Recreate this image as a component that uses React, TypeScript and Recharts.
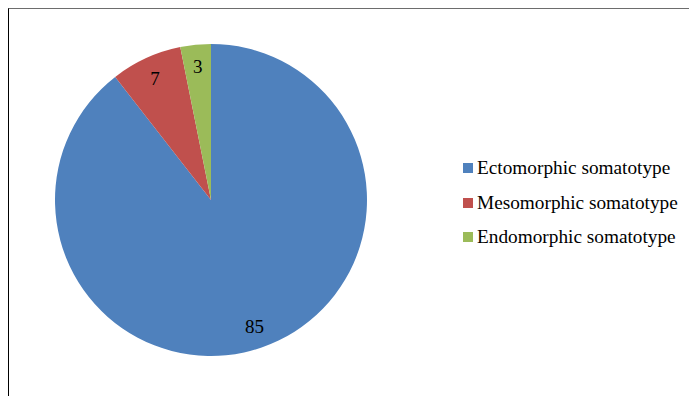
import { PieChart, Pie, Cell, Legend } from "recharts";

const categories = ["Ectomorphic somatotype", "Mesomorphic somatotype", "Endomorphic somatotype"];
const values = [85, 7, 3];
const colors = ["#4F81BD", "#C0504D", "#9BBB59"];

const data = categories.map((name, i) => ({ name, value: values[i] }));

const RAD = Math.PI / 180;
const FONT = '"Liberation Serif", "Times New Roman", serif';

function renderLabel(props: any) {
  const { cx, cy, midAngle, outerRadius, value } = props;
  const r = outerRadius * 0.86;
  const x = cx + r * Math.cos(-midAngle * RAD);
  const y = cy + r * Math.sin(-midAngle * RAD);
  return (
    <text x={x} y={y} fill="#000" fontSize={19} fontFamily={FONT} textAnchor="middle" dominantBaseline="central">
      {value}
    </text>
  );
}

function LegendBox() {
  return (
    <div style={{ fontFamily: FONT, fontSize: 19.3, color: "#000" }}>
      {categories.map((c, i) => (
        <div key={c} style={{ display: "flex", alignItems: "center", height: 34.5, whiteSpace: "nowrap" }}>
          <span style={{ width: 10, height: 10, background: colors[i], marginRight: 4, display: "inline-block" }} />
          {c}
        </div>
      ))}
    </div>
  );
}

export default function App() {
  return (
    <div style={{ position: "absolute", left: 0, top: 0, width: 689, height: 396, background: "#fff", overflow: "hidden" }}>
      <div style={{
        position: "absolute", left: 8, top: 8, width: 700, height: 400,
        borderTop: "1px solid #6d6d6d", borderLeft: "1px solid #000",
      }} />
      <PieChart width={689} height={396} margin={{ top: 0, right: 0, bottom: 0, left: 0 }}>
        <Pie
          data={data}
          dataKey="value"
          cx={211}
          cy={200}
          outerRadius={156}
          startAngle={90}
          endAngle={-270}
          stroke="none"
          label={renderLabel}
          labelLine={false}
          isAnimationActive={false}
        >
          {data.map((d, i) => (
            <Cell key={d.name} fill={colors[i]} />
          ))}
        </Pie>
        <Legend
          content={<LegendBox />}
          wrapperStyle={{ position: "absolute", left: 463, top: 151, width: 230 }}
        />
      </PieChart>
    </div>
  );
}
